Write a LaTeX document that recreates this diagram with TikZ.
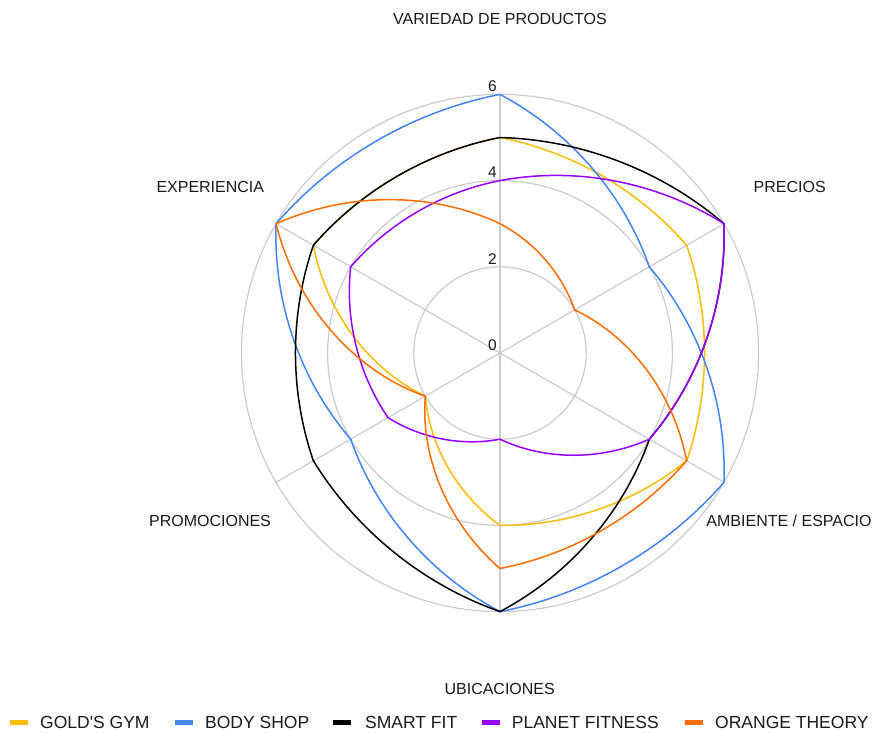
\documentclass[tikz,border=0pt]{standalone}
\usepackage{fontspec}
\setmainfont{Liberation Sans}
\definecolor{cgold}{HTML}{FBBC04}
\definecolor{cbody}{HTML}{4285F4}
\definecolor{csmart}{HTML}{000000}
\definecolor{cplanet}{HTML}{9900FF}
\definecolor{corange}{HTML}{FF6D01}
\definecolor{cgrid}{HTML}{CCCCCC}
\definecolor{ctext}{HTML}{1A1A1A}
\def\bw{0.62}
\newcommand\radarseg[4]{%
  \draw[serieslinestyle,#1] plot[domain=0:1,samples=40,variable=\t]
  ({\bw*(#3+(#4-#3)*\t)*cos(#2-60*\t)+(1-\bw)*((1-\t)*#3*cos(#2)+\t*#4*cos(#2-60))},
   {\bw*(#3+(#4-#3)*\t)*sin(#2-60*\t)+(1-\bw)*((1-\t)*#3*sin(#2)+\t*#4*sin(#2-60))});}
\newcommand\radarseries[7]{%
  \radarseg{#1}{90}{#2}{#3}%
  \radarseg{#1}{30}{#3}{#4}%
  \radarseg{#1}{-30}{#4}{#5}%
  \radarseg{#1}{-90}{#5}{#6}%
  \radarseg{#1}{-150}{#6}{#7}%
  \radarseg{#1}{-210}{#7}{#2}}
\tikzset{
  serieslinestyle/.style={line width=1.5pt,line join=round,line cap=round},
  gridline/.style={cgrid,line width=1.2pt},
  axislabel/.style={font=\fontsize{16}{19}\selectfont,text=ctext,inner sep=0pt,anchor=base},
  ticklabel/.style={font=\fontsize{15.5}{18}\selectfont,text=ctext,inner sep=0pt,anchor=east},
  legendtext/.style={font=\fontsize{17.5}{20}\selectfont,text=ctext,inner sep=0pt,anchor=base west},
  legendmark/.style={line width=5pt}
}
\begin{document}
\begin{tikzpicture}[x=1pt,y=-1pt]
\useasboundingbox[fill=white] (0,0) rectangle (878,732);
\begin{scope}[shift={(500pt,-353pt)},x=43.1pt,y=43.1pt]
  \foreach \r in {2,4,6} \draw[gridline] (0,0) circle[radius=\r];
  \foreach \a in {90,30,-30,-90,-150,150} \draw[gridline] (0,0) -- (\a:6);
  \foreach \v/\n in {0/ta,2/tb,4/tc,6/td}
    \node[ticklabel] (\n) at ([xshift=-3pt,yshift=8pt]0,\v) {\v};
  \radarseries{cgold}{5}{5}{5}{4}{2}{5}
  \radarseries{cbody}{6}{4}{6}{6}{4}{6}
  \radarseries{csmart}{5}{6}{4}{6}{5}{5}
  \radarseries{cplanet}{4}{6}{4}{2}{3}{4}
  \radarseries{corange}{3}{2}{5}{5}{2}{6}
\end{scope}
\node[axislabel] (lvar) at (500,24.5) {VARIEDAD DE PRODUCTOS};
\node[axislabel] (lpre) at (789.7,192.7) {PRECIOS};
\node[axislabel] (lamb) at (789,526) {AMBIENTE / ESPACIO};
\node[axislabel] (lubi) at (499.7,694) {UBICACIONES};
\node[axislabel] (lpro) at (210,526) {PROMOCIONES};
\node[axislabel] (lexp) at (210.3,192.7) {EXPERIENCIA};
\draw[legendmark,cgold] (10,722) -- (28,722);
\node[legendtext] (g1) at (40,728) {GOLD\textquotesingle S GYM};
\draw[legendmark,cbody] (175,722) -- (193,722);
\node[legendtext] (g2) at (205,728) {BODY SHOP};
\draw[legendmark,csmart] (333,722) -- (351,722);
\node[legendtext] (g3) at (365,728) {SMART FIT};
\draw[legendmark,cplanet] (482,722) -- (500,722);
\node[legendtext] (g4) at (511.7,728) {PLANET FITNESS};
\draw[legendmark,corange] (685,722) -- (703,722);
\node[legendtext] (g5) at (715,728) {ORANGE THEORY};
\end{tikzpicture}
\end{document}
